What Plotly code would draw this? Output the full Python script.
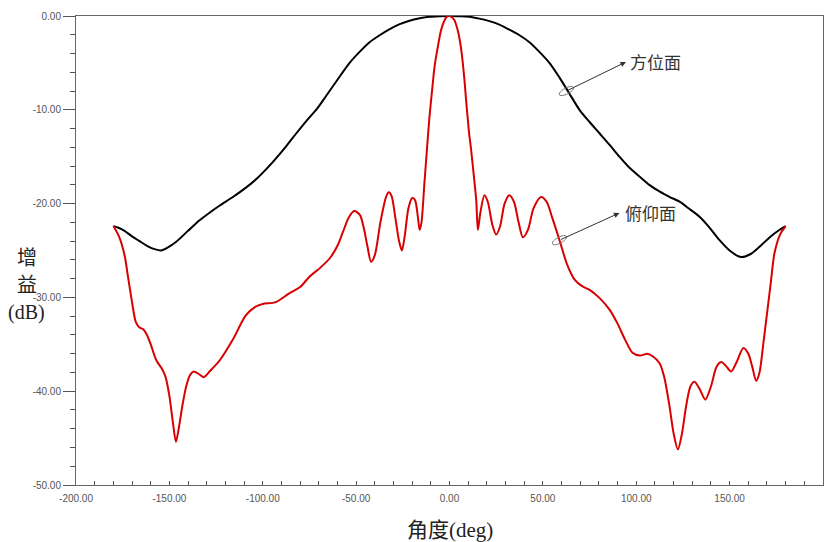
import math
import plotly.graph_objects as go

# Azimuth-plane pattern (方位面)
az_deg = [-180, -177, -174, -170, -166, -162, -158, -154.5, -151, -146.5, -140, -134, -128, -123,
          -116, -109, -103, -98, -93, -87.5, -82, -76.7, -71, -66, -60, -53.5, -48, -42.8, -37,
          -32, -27, -21.4, -16, -10.7, -5, 0, 5, 10.7, 16, 21.4, 27, 32, 37.5, 42.8, 48, 53.5,
          59, 64, 69.6, 75, 80.3, 86, 91, 96, 101.7, 107, 112.4, 118, 123.2, 128, 133.9, 139,
          144.6, 150, 156.2, 161, 166, 172, 176, 180]
az_db = [-22.4, -22.6, -22.9, -23.5, -24.0, -24.5, -24.85, -25.0, -24.7, -24.1, -22.9, -21.8, -20.9,
         -20.2, -19.3, -18.3, -17.3, -16.3, -15.2, -13.9, -12.5, -11.2, -9.9, -8.5, -6.8, -5.0,
         -3.8, -2.8, -2.0, -1.4, -0.9, -0.5, -0.25, -0.08, -0.02, 0, -0.02, -0.08, -0.28, -0.55,
         -0.95, -1.45, -2.05, -2.8, -3.8, -5.0, -6.6, -8.2, -10.0, -11.3, -12.5, -13.8, -15.0,
         -16.1, -17.1, -18.0, -18.7, -19.3, -19.8, -20.5, -21.4, -22.5, -23.9, -25.0, -25.7,
         -25.4, -24.6, -23.5, -22.9, -22.4]

# Elevation-plane pattern (俯仰面)
el_deg = [-180, -177, -174, -172, -170, -168, -166, -164, -162, -160, -157, -154, -152, -150, -148,
          -146.5, -145, -143, -141, -139, -137, -134, -131.5, -128, -123, -116, -109, -104, -100,
          -93, -86, -80, -75, -69, -64, -60, -57, -54, -51, -48, -46, -44, -42, -40, -37, -34,
          -32.5, -31, -29, -27, -25.5, -24, -22, -20, -18.5, -17, -16, -15, -13.5, -12, -10.7,
          -9, -8, -6, -4.5, -2.5, -1, 0.5, 2.5, 4.5, 6.3, 8, 8.9, 10.5, 11.6, 13, 14.3, 15.2,
          16.5, 18.7, 20.5, 23, 25, 27, 29.5, 32, 34.5, 37, 39.3, 42, 45, 49, 52, 55, 58.9, 63,
          67, 71, 75, 80, 85.7, 90, 94, 98, 102, 106, 109, 112.4, 115, 117.8, 120, 122.3, 124.5,
          126.7, 129, 131.2, 134, 137, 140, 143, 145.5, 148, 150.8, 153.5, 157.4, 160, 162,
          164.2, 166, 168, 169.6, 172, 174, 177, 180]
el_db = [-22.4, -23.5, -25.5, -28.0, -30.5, -32.6, -33.2, -33.4, -34.0, -35.0, -36.7, -37.6, -38.5,
         -40.5, -43.5, -45.4, -44.0, -41.5, -39.5, -38.3, -37.9, -38.2, -38.5, -37.8, -36.7, -34.5,
         -31.9, -31.0, -30.7, -30.5, -29.6, -28.9, -27.8, -26.8, -25.8, -24.5, -23.0, -21.5,
         -20.8, -21.2, -22.5, -24.5, -26.2, -25.5, -22.0, -19.3, -18.8, -19.2, -21.5, -24.0,
         -25.0, -23.5, -20.5, -19.4, -19.6, -21.3, -22.8, -22.0, -18.0, -14.0, -10.7, -7.3,
         -5.4, -3.0, -1.5, -0.4, 0, -0.05, -0.4, -1.6, -3.6, -6.8, -9.0, -12.5, -14.3, -17.0,
         -19.6, -22.8, -21.0, -19.1, -19.8, -22.3, -23.3, -22.5, -20.0, -19.1, -19.8, -22.0,
         -23.6, -22.8, -20.5, -19.3, -19.8, -21.5, -23.9, -26.5, -28.1, -28.8, -29.2, -30.0,
         -31.3, -32.8, -34.5, -35.9, -36.2, -36.0, -36.3, -37.0, -38.5, -41.6, -44.5, -46.2,
         -44.5, -41.6, -39.5, -39.0, -39.8, -40.9, -39.5, -37.4, -36.9, -37.3, -37.9, -37.0,
         -35.4, -36.0, -37.3, -38.9, -38.0, -35.0, -32.4, -28.5, -25.3, -23.3, -22.4]

x_ticks = [-200, -150, -100, -50, 0, 50, 100, 150, 200]
x_tick_text = ["-200.00", "-150.00", "-100.00", "-50.00", "0.00", "50.00", "100.00", "150.00", "200.00"]
y_ticks = [0, -10, -20, -30, -40, -50]
y_tick_text = ["0.00", "-10.00", "-20.00", "-30.00", "-40.00", "-50.00"]

label_az = "方位面"
label_el = "俯仰面"
x_title = "角度(deg)"
y_title_lines = ["增", "益", "(dB)"]

fig = go.Figure()
fig.add_trace(go.Scatter(x=az_deg, y=az_db, mode="lines",
                         line=dict(color="#000000", width=2, shape="spline", smoothing=0.8),
                         showlegend=False))
fig.add_trace(go.Scatter(x=el_deg, y=el_db, mode="lines",
                         line=dict(color="#d80000", width=2, shape="spline", smoothing=0.8),
                         showlegend=False))

tick_font = dict(family="Liberation Sans Narrow, Liberation Sans, Arial", size=10, color="#555555")

fig.update_xaxes(range=[-200, 200], tickvals=x_ticks, ticktext=x_tick_text,
                 ticks="inside", ticklen=4, tickcolor="#555555", ticklabelstandoff=4,
                 minor=dict(dtick=10, tick0=0, ticks="inside", ticklen=4, tickcolor="#555555"),
                 showline=True, linecolor="#666666", linewidth=1, mirror=True,
                 showgrid=False, zeroline=False, tickfont=tick_font, automargin=False)
fig.update_yaxes(range=[-50, 0], tickvals=y_ticks, ticktext=y_tick_text,
                 ticks="outside", ticklen=12, tickcolor="#555555",
                 minor=dict(dtick=2, tick0=0, ticks="outside", ticklen=5, tickcolor="#555555"),
                 showline=True, linecolor="#666666", linewidth=1, mirror=True,
                 showgrid=False, zeroline=False, tickfont=tick_font, automargin=False)


def ellipse_path(w, h, ang):
    pts = []
    a = math.radians(ang)
    for i in range(25):
        t = 2 * math.pi * i / 24
        ex, ey = w / 2 * math.cos(t), h / 2 * math.sin(t)
        pts.append((ex * math.cos(a) - ey * math.sin(a), ex * math.sin(a) + ey * math.cos(a)))
    return "M " + " L ".join(f"{px:.2f},{py:.2f}" for px, py in pts) + " Z"


# annotation callouts: (tail on curve x, y), (arrow head x, y), (text x, y), label
callouts = [((62.6, -8.0), (94.5, -4.9), (110.5, -4.8), label_az),
            ((58.9, -23.9), (91.0, -21.0), (107.8, -20.9), label_el)]
for tail, head, txt, lab in callouts:
    fig.add_annotation(x=head[0], y=head[1], ax=tail[0], ay=tail[1], axref="x", ayref="y",
                       text="", showarrow=True, arrowhead=2, arrowsize=1.1, arrowwidth=1,
                       arrowcolor="#333333", standoff=0, startstandoff=0)
    fig.add_annotation(x=txt[0], y=txt[1], text=lab, showarrow=False,
                       font=dict(family="Noto Sans CJK SC", size=17, color="#333333"))
    fig.add_shape(type="path", xref="x", yref="y", xsizemode="pixel", ysizemode="pixel",
                  xanchor=tail[0], yanchor=tail[1], path=ellipse_path(16, 6, 28),
                  line=dict(color="#777777", width=1))

fig.add_annotation(x=0.5, y=-0.096, xref="paper", yref="paper", text=x_title,
                   showarrow=False, xanchor="center", yanchor="middle",
                   font=dict(family="Liberation Serif, Noto Sans CJK SC", size=21, color="#222222"))
for line_text, ypos in zip(y_title_lines, [0.484, 0.426, 0.367]):
    fig.add_annotation(x=-0.066, y=ypos, xref="paper", yref="paper", text=line_text,
                       showarrow=False, xanchor="center", yanchor="middle",
                       font=dict(family="Liberation Serif, Noto Sans CJK SC", size=20, color="#222222"))

# page body has an 8px default margin; size the figure so the plot area lands at 76..823 x 16..485
fig.update_layout(width=825, height=534, margin=dict(l=68, r=10, t=8, b=57, autoexpand=False),
                  plot_bgcolor="white", paper_bgcolor="white", showlegend=False)

fig.write_html("out.html")
